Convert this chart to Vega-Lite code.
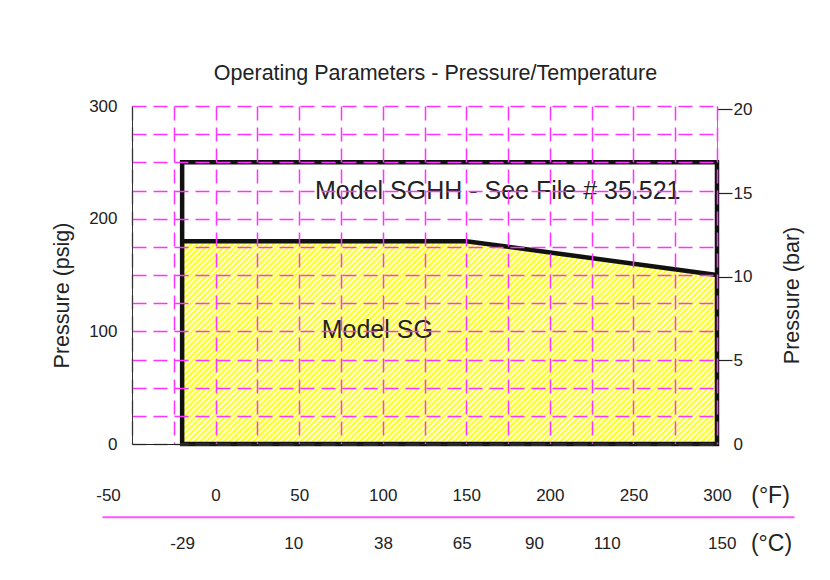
{
  "$schema": "https://vega.github.io/schema/vega-lite/v6.json",
  "width": 585,
  "height": 338,
  "autosize": {"type": "none"},
  "padding": {"left": 132, "top": 106, "right": 113, "bottom": 136},
  "background": "white",
  "title": {
    "text": "Operating Parameters - Pressure/Temperature",
    "fontSize": 21.5,
    "fontWeight": "normal",
    "color": "#222",
    "anchor": "middle",
    "frame": "group",
    "dx": 11,
    "dy": 19,
    "offset": 15,
    "baseline": "alphabetic"
  },
  "datasets": {
    "sg": [
      {"f": -20, "p": 180},
      {"f": 150, "p": 180},
      {"f": 300, "p": 150}
    ],
    "sghh": [
      {"f": -20, "f2": 300, "p": 0, "p2": 250}
    ],
    "labels": [
      {"label": "Model SGHH - See File # 35.521", "f": 59.5, "p": 217.2},
      {"label": "Model SG", "f": 63.5, "p": 94.3}
    ],
    "bar": [
      {"bar": 0}, {"bar": 5}, {"bar": 10}, {"bar": 15}, {"bar": 20}
    ],
    "celsius": [
      {"c": "-29", "f_equiv": -20},
      {"c": "10", "f_equiv": 46.5},
      {"c": "38", "f_equiv": 100.2},
      {"c": "65", "f_equiv": 147.3},
      {"c": "90", "f_equiv": 190.5},
      {"c": "110", "f_equiv": 234},
      {"c": "150", "f_equiv": 302.8}
    ]
  },
  "layer": [
    {
      "encoding": {
        "x": {
          "field": "f",
          "type": "quantitative",
          "scale": {"domain": [-50, 300], "nice": false, "zero": false},
          "axis": {
            "orient": "bottom",
            "values": [-50, -25, 0, 25, 50, 75, 100, 125, 150, 175, 200, 225, 250, 275, 300],
            "labelExpr": "datum.value % 50 === 0 ? '' + datum.value : ''",
            "grid": true,
            "gridColor": "#ff33ff",
            "gridDash": [14, 7],
            "gridWidth": 1.5,
            "domain": true,
            "domainColor": "#222",
            "domainWidth": 1,
            "ticks": false,
            "tickSize": 0,
            "labelFontSize": 17,
            "labelBaseline": "middle",
            "labelPadding": 51,
            "labelFlush": false,
            "labelOverlap": false,
            "labelOffset": {"condition": {"test": "datum.value === -50", "value": -24}, "value": 0},
            "title": "(°F)",
            "titleX": 638,
            "titleY": 51,
            "titleAngle": 0,
            "titleAlign": "center",
            "titleBaseline": "middle",
            "titleFontSize": 23,
            "zindex": 1
          }
        },
        "y": {
          "field": "p",
          "type": "quantitative",
          "scale": {"domain": [0, 300], "nice": false, "zero": false},
          "axis": {
            "orient": "left",
            "values": [0, 25, 50, 75, 100, 125, 150, 175, 200, 225, 250, 275, 300],
            "labelExpr": "datum.value % 100 === 0 ? '' + datum.value : ''",
            "grid": true,
            "gridColor": "#ff33ff",
            "gridDash": [14, 7],
            "gridWidth": 1.5,
            "domain": true,
            "domainColor": "#333",
            "domainWidth": 1,
            "ticks": false,
            "tickSize": 0,
            "labelFontSize": 17,
            "labelPadding": 15,
            "labelFlush": false,
            "labelOverlap": false,
            "title": "Pressure (psig)",
            "titleX": -70,
            "titleY": 189,
            "titleAngle": 270,
            "titleAlign": "center",
            "titleBaseline": "middle",
            "titleFontSize": 21.5,
            "zindex": 1
          }
        }
      },
      "layer": [
        {
          "data": {"name": "sg"},
          "mark": {
            "type": "area",
            "stroke": null,
            "fill": {
              "gradient": "linear",
              "x1": 0, "y1": 0, "x2": 1.206, "y2": 0.457,
              "stops": [
                {"offset":0,"color":"#ff0"},{"offset":0.004,"color":"#fff"},{"offset":0.008,"color":"#ff0"},{"offset":0.012,"color":"#fff"},{"offset":0.016,"color":"#ff0"},{"offset":0.02,"color":"#fff"},{"offset":0.024,"color":"#ff0"},{"offset":0.028,"color":"#fff"},{"offset":0.032,"color":"#ff0"},{"offset":0.036,"color":"#fff"},{"offset":0.04,"color":"#ff0"},{"offset":0.044,"color":"#fff"},{"offset":0.048,"color":"#ff0"},{"offset":0.052,"color":"#fff"},{"offset":0.056,"color":"#ff0"},{"offset":0.06,"color":"#fff"},{"offset":0.064,"color":"#ff0"},{"offset":0.068,"color":"#fff"},{"offset":0.072,"color":"#ff0"},{"offset":0.076,"color":"#fff"},{"offset":0.08,"color":"#ff0"},{"offset":0.084,"color":"#fff"},{"offset":0.088,"color":"#ff0"},{"offset":0.092,"color":"#fff"},{"offset":0.096,"color":"#ff0"},
                {"offset":0.1,"color":"#fff"},{"offset":0.104,"color":"#ff0"},{"offset":0.108,"color":"#fff"},{"offset":0.112,"color":"#ff0"},{"offset":0.116,"color":"#fff"},{"offset":0.12,"color":"#ff0"},{"offset":0.124,"color":"#fff"},{"offset":0.128,"color":"#ff0"},{"offset":0.132,"color":"#fff"},{"offset":0.136,"color":"#ff0"},{"offset":0.14,"color":"#fff"},{"offset":0.144,"color":"#ff0"},{"offset":0.148,"color":"#fff"},{"offset":0.152,"color":"#ff0"},{"offset":0.156,"color":"#fff"},{"offset":0.16,"color":"#ff0"},{"offset":0.164,"color":"#fff"},{"offset":0.168,"color":"#ff0"},{"offset":0.172,"color":"#fff"},{"offset":0.176,"color":"#ff0"},{"offset":0.18,"color":"#fff"},{"offset":0.184,"color":"#ff0"},{"offset":0.188,"color":"#fff"},{"offset":0.192,"color":"#ff0"},{"offset":0.196,"color":"#fff"},
                {"offset":0.2,"color":"#ff0"},{"offset":0.204,"color":"#fff"},{"offset":0.208,"color":"#ff0"},{"offset":0.212,"color":"#fff"},{"offset":0.216,"color":"#ff0"},{"offset":0.22,"color":"#fff"},{"offset":0.224,"color":"#ff0"},{"offset":0.228,"color":"#fff"},{"offset":0.232,"color":"#ff0"},{"offset":0.236,"color":"#fff"},{"offset":0.24,"color":"#ff0"},{"offset":0.244,"color":"#fff"},{"offset":0.248,"color":"#ff0"},{"offset":0.252,"color":"#fff"},{"offset":0.256,"color":"#ff0"},{"offset":0.26,"color":"#fff"},{"offset":0.264,"color":"#ff0"},{"offset":0.268,"color":"#fff"},{"offset":0.272,"color":"#ff0"},{"offset":0.276,"color":"#fff"},{"offset":0.28,"color":"#ff0"},{"offset":0.284,"color":"#fff"},{"offset":0.288,"color":"#ff0"},{"offset":0.292,"color":"#fff"},{"offset":0.296,"color":"#ff0"},
                {"offset":0.3,"color":"#fff"},{"offset":0.304,"color":"#ff0"},{"offset":0.308,"color":"#fff"},{"offset":0.312,"color":"#ff0"},{"offset":0.316,"color":"#fff"},{"offset":0.32,"color":"#ff0"},{"offset":0.324,"color":"#fff"},{"offset":0.328,"color":"#ff0"},{"offset":0.332,"color":"#fff"},{"offset":0.336,"color":"#ff0"},{"offset":0.34,"color":"#fff"},{"offset":0.344,"color":"#ff0"},{"offset":0.348,"color":"#fff"},{"offset":0.352,"color":"#ff0"},{"offset":0.356,"color":"#fff"},{"offset":0.36,"color":"#ff0"},{"offset":0.364,"color":"#fff"},{"offset":0.368,"color":"#ff0"},{"offset":0.372,"color":"#fff"},{"offset":0.376,"color":"#ff0"},{"offset":0.38,"color":"#fff"},{"offset":0.384,"color":"#ff0"},{"offset":0.388,"color":"#fff"},{"offset":0.392,"color":"#ff0"},{"offset":0.396,"color":"#fff"},
                {"offset":0.4,"color":"#ff0"},{"offset":0.404,"color":"#fff"},{"offset":0.408,"color":"#ff0"},{"offset":0.412,"color":"#fff"},{"offset":0.416,"color":"#ff0"},{"offset":0.42,"color":"#fff"},{"offset":0.424,"color":"#ff0"},{"offset":0.428,"color":"#fff"},{"offset":0.432,"color":"#ff0"},{"offset":0.436,"color":"#fff"},{"offset":0.44,"color":"#ff0"},{"offset":0.444,"color":"#fff"},{"offset":0.448,"color":"#ff0"},{"offset":0.452,"color":"#fff"},{"offset":0.456,"color":"#ff0"},{"offset":0.46,"color":"#fff"},{"offset":0.464,"color":"#ff0"},{"offset":0.468,"color":"#fff"},{"offset":0.472,"color":"#ff0"},{"offset":0.476,"color":"#fff"},{"offset":0.48,"color":"#ff0"},{"offset":0.484,"color":"#fff"},{"offset":0.488,"color":"#ff0"},{"offset":0.492,"color":"#fff"},{"offset":0.496,"color":"#ff0"},
                {"offset":0.5,"color":"#fff"},{"offset":0.504,"color":"#ff0"},{"offset":0.508,"color":"#fff"},{"offset":0.512,"color":"#ff0"},{"offset":0.516,"color":"#fff"},{"offset":0.52,"color":"#ff0"},{"offset":0.524,"color":"#fff"},{"offset":0.528,"color":"#ff0"},{"offset":0.532,"color":"#fff"},{"offset":0.536,"color":"#ff0"},{"offset":0.54,"color":"#fff"},{"offset":0.544,"color":"#ff0"},{"offset":0.548,"color":"#fff"},{"offset":0.552,"color":"#ff0"},{"offset":0.556,"color":"#fff"},{"offset":0.56,"color":"#ff0"},{"offset":0.564,"color":"#fff"},{"offset":0.568,"color":"#ff0"},{"offset":0.572,"color":"#fff"},{"offset":0.576,"color":"#ff0"},{"offset":0.58,"color":"#fff"},{"offset":0.584,"color":"#ff0"},{"offset":0.588,"color":"#fff"},{"offset":0.592,"color":"#ff0"},{"offset":0.596,"color":"#fff"},
                {"offset":0.6,"color":"#ff0"},{"offset":0.604,"color":"#fff"},{"offset":0.608,"color":"#ff0"},{"offset":0.612,"color":"#fff"},{"offset":0.616,"color":"#ff0"},{"offset":0.62,"color":"#fff"},{"offset":0.624,"color":"#ff0"},{"offset":0.628,"color":"#fff"},{"offset":0.632,"color":"#ff0"},{"offset":0.636,"color":"#fff"},{"offset":0.64,"color":"#ff0"},{"offset":0.644,"color":"#fff"},{"offset":0.648,"color":"#ff0"},{"offset":0.652,"color":"#fff"},{"offset":0.656,"color":"#ff0"},{"offset":0.66,"color":"#fff"},{"offset":0.664,"color":"#ff0"},{"offset":0.668,"color":"#fff"},{"offset":0.672,"color":"#ff0"},{"offset":0.676,"color":"#fff"},{"offset":0.68,"color":"#ff0"},{"offset":0.684,"color":"#fff"},{"offset":0.688,"color":"#ff0"},{"offset":0.692,"color":"#fff"},{"offset":0.696,"color":"#ff0"},
                {"offset":0.7,"color":"#fff"},{"offset":0.704,"color":"#ff0"},{"offset":0.708,"color":"#fff"},{"offset":0.712,"color":"#ff0"},{"offset":0.716,"color":"#fff"},{"offset":0.72,"color":"#ff0"},{"offset":0.724,"color":"#fff"},{"offset":0.728,"color":"#ff0"},{"offset":0.732,"color":"#fff"},{"offset":0.736,"color":"#ff0"},{"offset":0.74,"color":"#fff"},{"offset":0.744,"color":"#ff0"},{"offset":0.748,"color":"#fff"},{"offset":0.752,"color":"#ff0"},{"offset":0.756,"color":"#fff"},{"offset":0.76,"color":"#ff0"},{"offset":0.764,"color":"#fff"},{"offset":0.768,"color":"#ff0"},{"offset":0.772,"color":"#fff"},{"offset":0.776,"color":"#ff0"},{"offset":0.78,"color":"#fff"},{"offset":0.784,"color":"#ff0"},{"offset":0.788,"color":"#fff"},{"offset":0.792,"color":"#ff0"},{"offset":0.796,"color":"#fff"},
                {"offset":0.8,"color":"#ff0"},{"offset":0.804,"color":"#fff"},{"offset":0.808,"color":"#ff0"},{"offset":0.812,"color":"#fff"},{"offset":0.816,"color":"#ff0"},{"offset":0.82,"color":"#fff"},{"offset":0.824,"color":"#ff0"},{"offset":0.828,"color":"#fff"},{"offset":0.832,"color":"#ff0"},{"offset":0.836,"color":"#fff"},{"offset":0.84,"color":"#ff0"},{"offset":0.844,"color":"#fff"},{"offset":0.848,"color":"#ff0"},{"offset":0.852,"color":"#fff"},{"offset":0.856,"color":"#ff0"},{"offset":0.86,"color":"#fff"},{"offset":0.864,"color":"#ff0"},{"offset":0.868,"color":"#fff"},{"offset":0.872,"color":"#ff0"},{"offset":0.876,"color":"#fff"},{"offset":0.88,"color":"#ff0"},{"offset":0.884,"color":"#fff"},{"offset":0.888,"color":"#ff0"},{"offset":0.892,"color":"#fff"},{"offset":0.896,"color":"#ff0"},
                {"offset":0.9,"color":"#fff"},{"offset":0.904,"color":"#ff0"},{"offset":0.908,"color":"#fff"},{"offset":0.912,"color":"#ff0"},{"offset":0.916,"color":"#fff"},{"offset":0.92,"color":"#ff0"},{"offset":0.924,"color":"#fff"},{"offset":0.928,"color":"#ff0"},{"offset":0.932,"color":"#fff"},{"offset":0.936,"color":"#ff0"},{"offset":0.94,"color":"#fff"},{"offset":0.944,"color":"#ff0"},{"offset":0.948,"color":"#fff"},{"offset":0.952,"color":"#ff0"},{"offset":0.956,"color":"#fff"},{"offset":0.96,"color":"#ff0"},{"offset":0.964,"color":"#fff"},{"offset":0.968,"color":"#ff0"},{"offset":0.972,"color":"#fff"},{"offset":0.976,"color":"#ff0"},{"offset":0.98,"color":"#fff"},{"offset":0.984,"color":"#ff0"},{"offset":0.988,"color":"#fff"},{"offset":0.992,"color":"#ff0"},{"offset":0.996,"color":"#fff"},
                {"offset":1,"color":"#ff0"}
              ]
            }
          },
          "encoding": {
            "y2": {"datum": 0}
          }
        },
        {
          "data": {"name": "sghh"},
          "mark": {"type": "rect", "filled": false, "stroke": "#111", "strokeWidth": 4.5},
          "encoding": {
            "x2": {"field": "f2"},
            "y2": {"field": "p2"}
          }
        },
        {
          "data": {"name": "sg"},
          "mark": {"type": "line", "color": "#111", "strokeWidth": 4.5},
          "encoding": {}
        },
        {
          "data": {"name": "labels"},
          "mark": {"type": "text", "align": "left", "baseline": "alphabetic", "fontSize": 25, "color": "#222"},
          "encoding": {
            "text": {"field": "label", "type": "nominal"}
          }
        }
      ]
    },
    {
      "data": {"name": "bar"},
      "mark": {"type": "point", "opacity": 0},
      "encoding": {
        "y": {
          "field": "bar",
          "type": "quantitative",
          "scale": {"domain": [0, 20.2], "nice": false, "zero": false},
          "axis": {
            "orient": "right",
            "values": [0, 5, 10, 15, 20],
            "grid": false,
            "domain": true,
            "domainColor": "#888",
            "domainWidth": 1,
            "ticks": true,
            "tickSize": 15,
            "tickColor": "#222",
            "tickWidth": 1.2,
            "tickOpacity": {"condition": {"test": "datum.value === 0", "value": 0}, "value": 1},
            "labelFontSize": 17,
            "labelPadding": 1,
            "labelFlush": false,
            "labelOverlap": false,
            "title": "Pressure (bar)",
            "titleX": 75,
            "titleY": 189,
            "titleAngle": 270,
            "titleAlign": "center",
            "titleBaseline": "middle",
            "titleFontSize": 21.5
          }
        }
      }
    },
    {
      "data": {"name": "celsius"},
      "mark": {"type": "point", "opacity": 0},
      "encoding": {
        "x": {
          "field": "f_equiv",
          "type": "quantitative",
          "scale": {"domain": [-67.95, 346.08], "range": [-30, 662], "nice": false, "zero": false},
          "axis": {
            "orient": "bottom",
            "offset": 72.7,
            "values": [-20, 46.5, 100.2, 147.3, 190.5, 234, 302.8],
            "labelExpr": "datum.value < 0 ? '-29' : datum.value < 60 ? '10' : datum.value < 120 ? '38' : datum.value < 170 ? '65' : datum.value < 210 ? '90' : datum.value < 260 ? '110' : '150'",
            "grid": false,
            "ticks": false,
            "tickSize": 0,
            "domain": true,
            "domainColor": "#ff55ff",
            "domainWidth": 2,
            "labelFontSize": 17,
            "labelBaseline": "middle",
            "labelPadding": 27,
            "labelFlush": false,
            "labelOverlap": false,
            "title": "(°C)",
            "titleX": 639,
            "titleY": 27,
            "titleAngle": 0,
            "titleAlign": "center",
            "titleBaseline": "middle",
            "titleFontSize": 23
          }
        }
      }
    }
  ],
  "resolve": {
    "scale": {"x": "independent", "y": "independent"},
    "axis": {"x": "independent", "y": "independent"}
  },
  "config": {
    "font": "Liberation Sans, Arial, sans-serif",
    "view": {"stroke": null},
    "axis": {
      "labelColor": "#222",
      "titleColor": "#222",
      "titleFontWeight": "normal",
      "labelFont": "Liberation Sans, Arial, sans-serif",
      "titleFont": "Liberation Sans, Arial, sans-serif"
    },
    "text": {"font": "Liberation Sans, Arial, sans-serif"}
  }
}
